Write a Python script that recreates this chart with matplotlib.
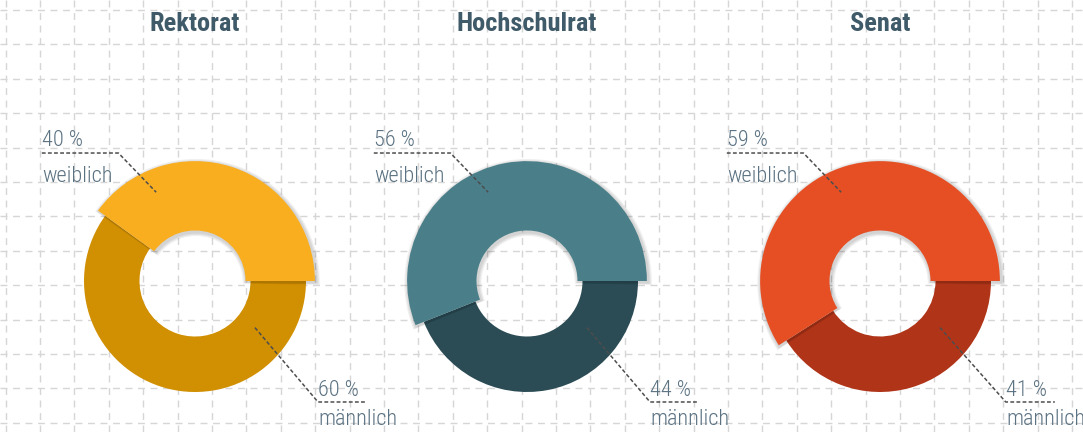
import numpy as np
import matplotlib.pyplot as plt
from matplotlib.patches import Wedge

plt.rcParams['font.family'] = ['Roboto Condensed', 'Roboto', 'DejaVu Sans']

# Daten
gremien = ['Rektorat', 'Hochschulrat', 'Senat']
weiblich = [40, 56, 59]
maennlich = [60, 44, 41]
farben_w = ['#f8ae1f', '#4a7f8a', '#e64f24']
farben_m = ['#d18f02', '#2b4c55', '#b03418']

W, H = 1083, 432
fig = plt.figure(figsize=(W / 100, H / 100), dpi=100)

# Hintergrundraster
bg = fig.add_axes([0, 0, 1, 1])
bg.set_xlim(0, W)
bg.set_ylim(H, 0)
bg.set_xticks(np.arange(5.6, W, 34.4))
bg.set_yticks(np.arange(10, H, 34.4))
bg.grid(True, color='#d6d6d6', lw=1, ls=(0, (5, 4)))
bg.tick_params(length=0, labelbottom=False, labelleft=False)
for s in bg.spines.values():
    s.set_visible(False)

centers = [195, 527, 880]
cy = 281
R = 111   # pixel pro Einheit
lim = 1.25
txt_col = '#5b7282'
fs = 16
line_kw = dict(color='#4d4d4d', lw=1.1, ls=(0, (2.5, 1.5)), clip_on=False)
txt_kw = dict(fontsize=fs, color=txt_col, va='baseline', ha='left',
              fontweight='light', fontstretch='condensed')

for i, name in enumerate(gremien):
    cx = centers[i]
    ax = fig.add_axes([(cx - lim * R) / W, (H - cy - lim * R) / H,
                       2 * lim * R / W, 2 * lim * R / H])
    wedges, _ = ax.pie([weiblich[i], maennlich[i]], colors=[farben_w[i], farben_m[i]],
                       startangle=0, counterclock=True, radius=1.0,
                       wedgeprops=dict(width=0.5, lw=0))
    w_f, w_m = wedges
    w_f.set_radius(1.08)
    w_f.set_width(1.08 - 0.455)
    w_f.set_zorder(5)
    w_m.set_zorder(1)
    # weicher Schatten
    for k, d in enumerate([0.035, 0.024, 0.013]):
        sh = Wedge((0.01, -0.015), 1.08 + d, w_f.theta1 - 1.5 * d * 20, w_f.theta2 + d * 20,
                   width=1.08 - 0.455 + 2 * d, color='black', alpha=0.06, lw=0, zorder=3)
        ax.add_patch(sh)
    ax.set_xlim(-lim, lim)
    ax.set_ylim(-lim, lim)
    ax.set_aspect('equal')
    ax.axis('off')

    # Beschriftung weiblich
    ax.plot([-1.38, -0.69, -0.35], [1.153, 1.153, 0.80], zorder=6, **line_kw)
    ax.text(-1.38, 1.216, f'{weiblich[i]} %', **txt_kw)
    ax.text(-1.38, 0.89, 'weiblich', **txt_kw)
    # Beschriftung männlich
    mx = 1.135 if name == 'Senat' else 1.11
    ax.plot([0.54, mx - 0.002, mx + 0.44], [-0.42, -1.09, -1.09], zorder=6, **line_kw)
    ax.text(mx, -1.036, f'{maennlich[i]} %', **txt_kw)
    ax.text(mx, -1.30, 'männlich', **txt_kw)

    fig.text(cx / W, 1 - 31 / H, name, fontsize=19, fontweight='bold', color='#3f5a68',
             ha='center', va='baseline', fontstretch='condensed')

fig.savefig('out.png', dpi=100)
